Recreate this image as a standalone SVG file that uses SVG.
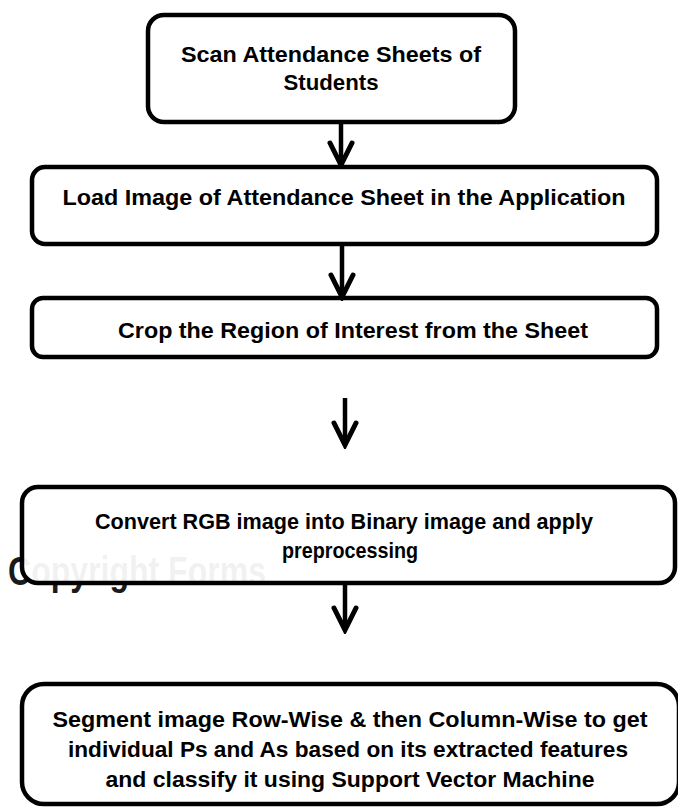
<svg xmlns="http://www.w3.org/2000/svg" width="678" height="807" viewBox="0 0 678 807">
  <style>
    .box { fill: #ffffff; stroke: #000000; stroke-width: 4.5; }
    .t { font-family: "Liberation Sans", Arial, sans-serif; font-weight: bold; font-size: 21.5px; fill: #000000; text-anchor: middle; }
    .wm { font-family: "Liberation Sans", Arial, sans-serif; font-weight: bold; font-size: 40px; fill: #1a1a1a; }
    .conn { stroke: #000000; stroke-width: 4.5; fill: none; }
  </style>
  <defs>
    <marker id="chev" viewBox="0 0 30 30" markerUnits="userSpaceOnUse" markerWidth="30" markerHeight="30" refX="25" refY="15" orient="auto">
      <path d="M4,4 L26,15 L4,26" fill="none" stroke="#000000" stroke-width="5" stroke-linejoin="miter" stroke-linecap="round"/>
    </marker>
    <clipPath id="clip5">
      <rect x="0" y="683" width="678" height="110"/>
    </clipPath>
  </defs>
  <rect width="678" height="807" fill="#ffffff"/>

  <g id="watermark">
    <text class="wm" x="8" y="585" textLength="258" lengthAdjust="spacingAndGlyphs">Copyright Forms</text>
  </g>

  <g id="node1">
    <rect class="box" x="148" y="15" width="367" height="107" rx="16"/>
    <text class="t" x="331" y="62" textLength="300" lengthAdjust="spacingAndGlyphs">Scan Attendance  Sheets of</text>
    <text class="t" x="331" y="90" textLength="95" lengthAdjust="spacingAndGlyphs">Students</text>
  </g>

  <g id="node2">
    <rect class="box" x="32" y="167" width="625" height="77" rx="13"/>
    <text class="t" x="344" y="205" textLength="563" lengthAdjust="spacingAndGlyphs">Load Image of Attendance Sheet in the Application</text>
  </g>

  <g id="node3">
    <rect class="box" x="32" y="298" width="625" height="59" rx="11"/>
    <text class="t" x="353" y="338" textLength="470" lengthAdjust="spacingAndGlyphs">Crop the Region of Interest from the Sheet</text>
  </g>

  <g id="node4">
    <rect class="box" x="22" y="487" width="653" height="96" rx="16" style="fill-opacity:0.94"/>
    <text class="t" x="344" y="529" textLength="498" lengthAdjust="spacingAndGlyphs">Convert RGB image into Binary image and apply</text>
    <text class="t" x="350" y="558" textLength="136" lengthAdjust="spacingAndGlyphs">preprocessing</text>
  </g>

  <g id="node5">
    <rect class="box" x="22" y="684" width="657" height="120" rx="22"/>
    <g clip-path="url(#clip5)">
      <text class="t" x="350" y="727" textLength="595" lengthAdjust="spacingAndGlyphs">Segment image Row-Wise &amp; then Column-Wise to get</text>
      <text class="t" x="348" y="757" textLength="560" lengthAdjust="spacingAndGlyphs">individual Ps and As based on its extracted features</text>
      <text class="t" x="350" y="787" textLength="489" lengthAdjust="spacingAndGlyphs">and classify it using Support Vector Machine</text>
    </g>
  </g>

  <g id="connectors">
    <line class="conn" x1="341" y1="122" x2="341" y2="164" marker-end="url(#chev)"/>
    <line class="conn" x1="342" y1="244" x2="342" y2="296" marker-end="url(#chev)"/>
    <line class="conn" x1="345" y1="398" x2="345" y2="444" marker-end="url(#chev)"/>
    <line class="conn" x1="345" y1="583" x2="345" y2="629" marker-end="url(#chev)"/>
  </g>
</svg>
